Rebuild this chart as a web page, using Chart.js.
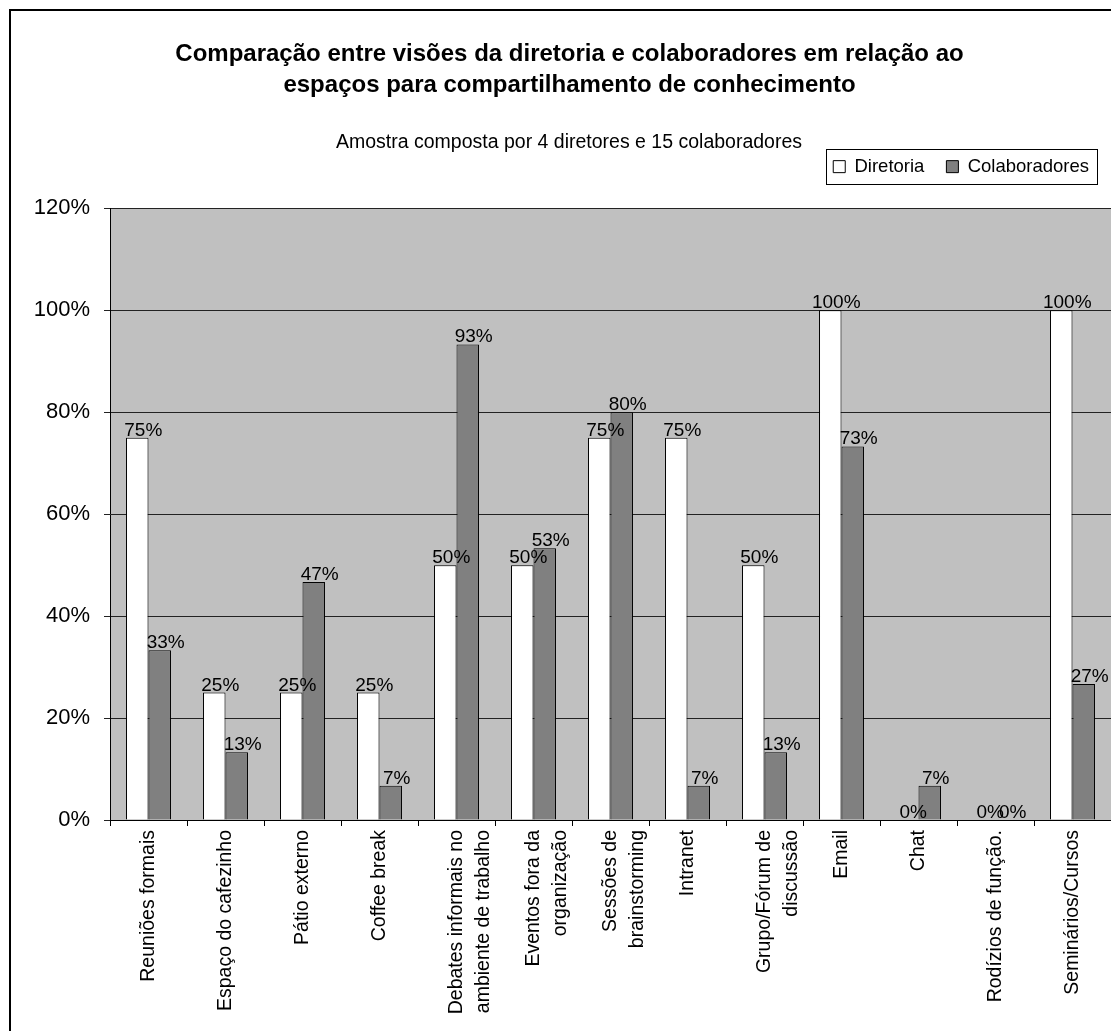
<!DOCTYPE html>
<html lang="pt">
<head>
<meta charset="utf-8">
<title>Espaços para compartilhamento de conhecimento</title>
<script src="https://cdn.jsdelivr.net/npm/chart.js@4.4.1/dist/chart.umd.min.js"></script>
<style>
    body { margin: 0; background: #fff; }
    canvas { display: block; }
</style>
</head>
<body>
<canvas id="grafico" width="1111" height="1031"></canvas>
<script>
// dados
const categorias = [
    'Reuniões formais',
    'Espaço do cafezinho',
    'Pátio externo',
    'Coffee break',
    ['Debates informais no', 'ambiente de trabalho'],
    ['Eventos fora da', 'organização'],
    ['Sessões de', 'brainstorming'],
    'Intranet',
    ['Grupo/Fórum de', 'discussão'],
    'Email',
    'Chat',
    'Rodízios de função.',
    'Seminários/Cursos'
];
const diretoria = [75, 25, 25, 25, 50, 50, 75, 75, 50, 100, 0, 0, 100];
const colaboradores = [33.3, 13.3, 46.7, 6.7, 93.3, 53.3, 80, 6.7, 13.3, 73.3, 6.7, 0, 26.7];
const ticksY = [0, 20, 40, 60, 80, 100, 120];

const titulo = ['Comparação entre visões da diretoria e colaboradores em relação ao', 'espaços para compartilhamento de conhecimento'];
const subtitulo = 'Amostra composta por 4 diretores e 15 colaboradores';

const fonte = '"Liberation Sans", Arial, sans-serif';

// fundo, moldura, subtitulo e caixa da legenda
const molduraPlugin = {
    id: 'moldura',
    beforeDraw(chart) {
        const ctx = chart.ctx;
        const a = chart.chartArea;
        ctx.save();
        ctx.fillStyle = '#fff';
        ctx.fillRect(0, 0, chart.width, chart.height);
        ctx.fillStyle = '#c0c0c0';
        ctx.fillRect(a.left, a.top, a.right - a.left, a.bottom - a.top);
        ctx.restore();
    },
    afterDraw(chart) {
        const ctx = chart.ctx;
        ctx.save();
        ctx.fillStyle = '#000';
        ctx.fillRect(9, 9, 2, chart.height);
        ctx.fillRect(9, 9, chart.width, 2);

        ctx.font = '19.5px ' + fonte;
        ctx.textAlign = 'center';
        ctx.textBaseline = 'middle';
        ctx.fillText(subtitulo, 569, 143);

        const caixas = chart.legend.legendHitBoxes;
        if (caixas && caixas.length) {
            const primeiro = caixas[0];
            const ultimo = caixas[caixas.length - 1];
            const x1 = Math.round(primeiro.left - 7) + 0.5;
            const x2 = Math.round(ultimo.left + ultimo.width + 8) + 0.5;
            const y1 = Math.round(primeiro.top - 8) + 0.5;
            const y2 = Math.round(primeiro.top + primeiro.height + 8) + 0.5;
            ctx.strokeStyle = '#000';
            ctx.lineWidth = 1;
            ctx.strokeRect(x1, y1, x2 - x1, y2 - y1);
        }
        ctx.restore();
    }
};

// rotulos de valor em cima das barras
const rotulosPlugin = {
    id: 'rotulos',
    afterDatasetsDraw(chart) {
        const ctx = chart.ctx;
        ctx.save();
        ctx.font = '19px ' + fonte;
        ctx.fillStyle = '#000';
        ctx.textAlign = 'center';
        ctx.textBaseline = 'alphabetic';
        chart.data.datasets.forEach((ds, i) => {
            chart.getDatasetMeta(i).data.forEach((barra, j) => {
                ctx.fillText(Math.round(ds.data[j]) + '%', barra.x + 6, barra.y - 2);
            });
        });
        ctx.restore();
    }
};

new Chart(document.getElementById('grafico'), {
    type: 'bar',
    data: {
        labels: categorias,
        datasets: [{
            label: 'Diretoria',
            data: diretoria,
            backgroundColor: '#ffffff',
            borderColor: '#000',
            borderWidth: 1,
            xAxisID: 'x'
        }, {
            label: 'Colaboradores',
            data: colaboradores,
            backgroundColor: '#808080',
            borderColor: '#000',
            borderWidth: 1,
            xAxisID: 'x'
        }]
    },
    options: {
        responsive: false,
        animation: false,
        categoryPercentage: 0.584,
        barPercentage: 1,
        layout: { padding: { top: 10, left: 28, right: 0, bottom: 0 } },
        plugins: {
            tooltip: { enabled: false },
            title: {
                display: true,
                text: titulo,
                color: '#000',
                font: { family: fonte, size: 24, weight: 'bold', lineHeight: 1.3 },
                padding: { top: 29, bottom: 34 }
            },
            legend: {
                position: 'top',
                align: 'end',
                labels: {
                    color: '#000',
                    font: { family: fonte, size: 18.5 },
                    boxWidth: 12,
                    boxHeight: 12,
                    padding: 22
                }
            }
        },
        scales: {
            x: {
                position: 'bottom',
                grid: { drawOnChartArea: false, tickLength: 6, color: '#000', offset: true },
                border: { color: '#000', width: 1 },
                ticks: {
                    color: '#000',
                    font: { family: fonte, size: 19.5, lineHeight: 1.4 },
                    minRotation: 90,
                    maxRotation: 90,
                    autoSkip: false,
                    padding: 4
                },
                afterFit(escala) {
                    escala.height = 211;
                    escala.paddingLeft = 0;
                    escala.paddingRight = 0;
                }
            },
            espaco: {
                type: 'category',
                position: 'top',
                grid: { display: false },
                border: { display: false },
                ticks: { display: false },
                afterFit(escala) {
                    escala.height = 22.5;
                }
            },
            y: {
                min: 0,
                max: 120,
                afterBuildTicks(escala) {
                    escala.ticks = ticksY.map(v => ({ value: v }));
                },
                grid: { color: '#222', tickLength: 6 },
                border: { color: '#000', width: 1 },
                ticks: {
                    color: '#000',
                    font: { family: fonte, size: 22 },
                    padding: 14,
                    callback: v => v + '%'
                },
                afterFit(escala) {
                    escala.width = 82;
                }
            }
        }
    },
    plugins: [molduraPlugin, rotulosPlugin]
});
</script>
</body>
</html>
